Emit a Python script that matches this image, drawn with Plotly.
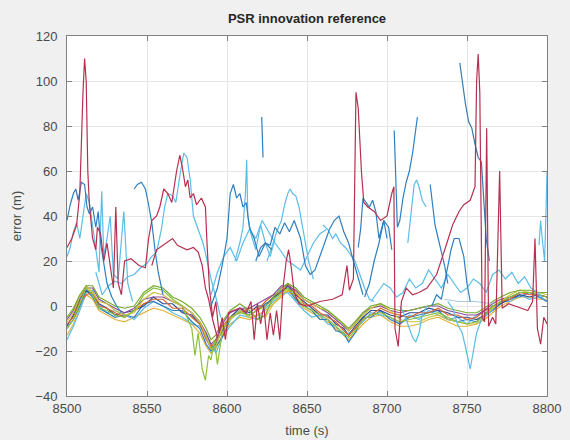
import plotly.graph_objects as go

# ---------------- data ----------------
CLUSTER_T = [8500, 8504, 8508, 8512, 8516, 8520,
             8525, 8530, 8536, 8542, 8548,
             8554, 8560, 8566, 8572, 8578,
             8583, 8587, 8590, 8593, 8597,
             8602, 8608, 8614, 8619, 8624,
             8629, 8634, 8638, 8643, 8648,
             8653, 8658, 8663, 8668, 8673,
             8676, 8680, 8685, 8690, 8696,
             8702, 8708, 8714, 8720, 8726,
             8732, 8738, 8744, 8750, 8756,
             8761, 8766, 8771, 8777, 8783,
             8789, 8795, 8800]

C_YELLOW2 = [-13, -8, -1, 5, 3, -2, -4, -6, -7, -5, -3, -1, -2, -4, -6, -8, -12, -18, -21, -19, -13,
             -8, -5, -6, -4, -2, 1, 4, 7, 3, -1, -3, -5, -7, -10, -13, -15, -12, -8, -5, -4,
             -7, -9, -9, -8, -6, -5, -7, -9, -9, -8, -6, -3, 0, 2, 4, 4, 3, 3]
C_LIGHT = [-15, -9, -2, 6, 7, 0, -3, -2, -4, -6, -1, 2, 0, -3, -5, -8, -9, -13, -17, -21, -14,
           -9, -4, -5, -6, -1, 2, 5, 6, 2, -2, -5, -4, -8, -9, -13, -12, -10, -7, -3, -4,
           -5, -8, -4, -6, -2, -4, -6, -5, -8, -4, -3, -2, 2, 2, 5, 3, 4, 2]
C_BLUE = [-10, -6, 0, 7, 4, -1, -3, -5, -4, -5, 1, 2, 0, -2, -2, -7, -10, -17, -20, -18, -14,
          -6, -2, -4, -2, 1, 3, 7, 8, 3, 0, -2, -6, -6, -11, -12, -16, -12, -5, -5, -2,
          -6, -8, -5, -4, -3, -2, -6, -7, -6, -7, -4, -2, 1, 4, 4, 6, 4, 2]
C_NAVY = [-9, -4, 3, 7, 5, 1, -1, -4, -3, -2, 0, 4, 1, 1, -3, -4, -8, -14, -19, -17, -11,
          -5, -1, -3, 0, 0, 4, 6, 9, 5, 2, -1, -4, -4, -8, -10, -13, -9, -5, -2, -2,
          -4, -5, -3, -3, -1, -2, -3, -5, -5, -6, -4, 0, 1, 3, 5, 4, 5, 4]
C_ORANGE = [-8, -5, 2, 5, 6, 0, -1, -3, -5, -2, 1, 3, 3, -1, -1, -5, -8, -15, -18, -16, -9,
            -5, -3, -1, -2, 2, 5, 6, 10, 6, 1, 0, -3, -5, -7, -11, -13, -10, -6, -4, -1,
            -3, -4, -5, -3, -3, -1, -4, -4, -6, -5, -2, -1, 2, 3, 6, 5, 5, 4]
C_PURPLE = [-6, -2, 4, 8, 8, 3, 1, -1, -3, -1, 3, 4, 4, 2, 0, -3, -7, -12, -17, -15, -8,
            -3, -1, -1, 1, 3, 5, 9, 9, 7, 3, 1, -1, -3, -6, -9, -11, -8, -3, -1, 0,
            -2, -3, -2, -1, 0, 0, -2, -3, -4, -4, -2, 1, 3, 4, 6, 6, 5, 4]
C_OLIVE = [-7, -3, 4, 9, 6, 2, 1, -2, -4, -3, 3, 6, 5, 2, 0, -3, -7, -14, -19, -18, -10,
           -6, -2, -5, -4, -5, 1, 5, 7, 6, 3, 1, -1, -2, -5, -8, -11, -8, -4, -1, 1,
           -2, -6, -7, -7, -5, -4, -6, -7, -8, -8, -5, -1, 2, 5, 7, 6, 6, 5]
C_GREEN2 = [-5, -1, 5, 9, 9, 4, 2, 0, -1, 0, 6, 9, 8, 4, 2, -1, -5, -10, -15, -13, -7,
            -2, 1, -2, -6, -4, 4, 8, 10, 8, 4, 2, 0, -2, -5, -8, -10, -7, -3, 0, 1,
            -1, -2, -2, -1, 0, 1, -1, -2, -3, -3, -1, 2, 4, 6, 7, 7, 6, 6]

GREEN_T = [8500, 8504, 8508, 8512, 8516, 8520, 8525, 8530, 8536, 8542,
           8548, 8554, 8560, 8566, 8572, 8578, 8580, 8582, 8584.5, 8586.5,
           8588.5, 8590, 8592, 8594, 8597, 8602, 8608, 8614, 8619, 8624,
           8629, 8634, 8638, 8643, 8648, 8653, 8658, 8663, 8668, 8673,
           8676, 8680, 8685, 8690, 8696, 8702, 8708, 8714, 8720, 8726,
           8732, 8738, 8744, 8750, 8756, 8761, 8766, 8771, 8777, 8783,
           8789, 8795, 8800]
GREEN_V = [-10, -6, 1, 8, 5, -1, -2, -4, -5, -2,
           5, 8, 7, 3, 0, -10, -22, -12, -28, -33,
           -22, -24, -15, -26, -12, -5, -3, -4, -2, 0,
           3, 6, 8, 4, 0, -2, -4, -6, -9, -12,
           -14, -11, -6, -4, -3, -5, -7, -6, -5, -4,
           -3, -5, -7, -8, -7, -4, 0, 2, 4, 6,
           6, 5, 4]

RED_A_T = [8500, 8503, 8506, 8508, 8510, 8511, 8512, 8513, 8514, 8516,
           8518, 8519, 8521, 8523, 8525, 8527, 8529, 8530.5, 8532, 8534,
           8536, 8540, 8545, 8549, 8551, 8553, 8556, 8558, 8560.5, 8563,
           8565.5, 8568.5, 8570.5, 8572, 8574, 8575.5, 8577, 8579, 8581, 8584,
           8586.5, 8587.5, 8589, 8591, 8593, 8595, 8597, 8599, 8601, 8604,
           8608, 8612, 8615, 8617, 8619, 8621, 8623, 8625, 8627, 8629,
           8631, 8633, 8635, 8637, 8638.5, 8640, 8642, 8645, 8650, 8658,
           8666, 8672, 8675, 8676.5, 8679, 8680.6, 8682, 8684, 8685.5, 8688,
           8692, 8696, 8700, 8703, 8704.3, 8705, 8707, 8709, 8712, 8716,
           8720, 8725, 8731, 8737, 8741, 8745, 8748, 8752, 8755, 8756,
           8757, 8758, 8759.5, 8761, 8762.3, 8763.5, 8766, 8768, 8770.4, 8772,
           8776, 8780, 8784, 8788, 8791, 8792.5, 8794, 8796, 8798, 8800]
RED_A_V = [26, 30, 36, 50, 95, 110, 100, 60, 45, 30,
           25, 35, 32, 20, 28, 18, 8, 44, 10, 5,
           20, 21, 18, 17, 30, 38, 40, 44, 52, 50,
           46, 60, 67, 62, 53, 56, 48, 50, 45, 48,
           44, 28, 8, -5, 2, -12, -5, -15, -3, -2,
           -1, -3, 2, -15, 1, -8, 0, -15, -3, -13,
           -2, -15, 8, 20, 25, 18, 6, 1, 0, 2,
           3, 5, 18, 7, 12, 95, 88, 60, 46, 44,
           42, 38, 40, 50, 53, -10, -18, 2, 8, 5,
           6, 8, 14, 27, 36, 42, 45, 47, 53, 100,
           112, 95, -5, -7, 79, -9, -5, -8, 60, -1,
           1, 0, -1, -2, 2, 30, -10, -17, -5, -8]

RED_B_T = [8553, 8556, 8560, 8564, 8566, 8569, 8572, 8575, 8579, 8582, 8584.5, 8586.5, 8588.5, 8591, 8594]
RED_B_V = [18, 25, 27, 29, 30, 27, 26, 25, 26, 24, 18, 8, 3, -6, -14]

BLUE_1_T = [8500, 8502, 8504, 8505.5, 8507, 8509, 8511, 8512.5, 8514, 8516, 8518, 8519.5, 8521, 8523, 8525, 8528, 8531, 8534]
BLUE_1_V = [38, 45, 50, 52, 47, 55, 54, 44, 41, 44, 35, 42, 28, 18, 10, 4, 0, -3]
LB_LEFT_T = [8500, 8502, 8504, 8506, 8508, 8510, 8512, 8514, 8516, 8518, 8520, 8521.7, 8523, 8525, 8527, 8529, 8532, 8535.5, 8538, 8541]
LB_LEFT_V = [22, 26, 33, 37, 30, 40, 50, 46, 36, 25, 15, 51, 22, 30, 40, 14, 12, 42, 10, 2]
BLUE_ARC_T = [8542, 8544, 8546.5, 8549, 8551, 8553, 8555, 8557, 8560]
BLUE_ARC_V = [52, 54, 55, 52, 45, 37, 25, 15, 5]
LB_PEAK_T = [8518, 8522, 8526, 8530, 8534, 8538, 8542, 8546, 8550, 8553,
             8556, 8559, 8561, 8563, 8566, 8568, 8571, 8573, 8575, 8577,
             8579, 8581, 8583, 8585, 8587, 8590, 8593, 8596]
LB_PEAK_V = [15, 5, 9, 11, 10, 13, 14, 17, 19, 22,
             24, 34, 44, 50, 49, 46, 60, 68, 66, 56,
             40, 36, 32, 28, 22, 12, 4, -5]
BLUE_4_T = [8590, 8594, 8597, 8600, 8602, 8604, 8606, 8608, 8610, 8612, 8614, 8617, 8620, 8624, 8628]
BLUE_4_V = [0, 8, 18, 30, 50, 54, 48, 50, 44, 46, 35, 30, 22, 28, 25]
LB_SPIKE_T = [8605, 8608, 8610, 8611.5, 8612.3, 8613, 8615, 8618, 8621, 8624, 8627, 8630]
LB_SPIKE_V = [20, 28, 35, 50, 65, 40, 32, 25, 36, 28, 22, 30]
BLUE_SEG_T = [8621.7, 8622.5]
BLUE_SEG_V = [84, 66]
LB_ARC2_T = [8625, 8628, 8631, 8634, 8636, 8638, 8639.5, 8641, 8643, 8645, 8647, 8649, 8651, 8654]
LB_ARC2_V = [20, 26, 33, 38, 45, 50, 52, 50, 49, 44, 36, 28, 20, 12]
BLUE_5_T = [8618, 8621, 8624, 8627, 8630, 8633, 8636, 8639, 8642, 8646,
            8649, 8652, 8655, 8658, 8661, 8664, 8667, 8670, 8673, 8676,
            8679, 8682, 8685]
BLUE_5_V = [20, 26, 28, 27, 35, 32, 37, 33, 38, 30,
            18, 14, 16, 22, 28, 34, 38, 40, 33, 28,
            20, 12, 5]
LB_DESC_T = [8660, 8663, 8666, 8668, 8671, 8674, 8677, 8680, 8683, 8686, 8689, 8692]
LB_DESC_V = [36, 34, 30, 32, 28, 26, 23, 20, 14, 8, 3, 2]
BLUE_7_T = [8682, 8683.5, 8685, 8687, 8689, 8691, 8693, 8695, 8698, 8701, 8703]
BLUE_7_V = [26, 34, 48, 46, 44, 47, 42, 30, 38, 35, 25]
BLUE_8_T = [8686, 8689, 8692, 8695, 8698, 8700]
BLUE_8_V = [4, 10, 20, 28, 38, 30]
BLUE_9_T = [8704.5, 8705.5, 8706.5, 8708, 8710, 8712, 8714, 8716, 8718, 8719]
BLUE_9_V = [78, 60, 35, 38, 48, 55, 60, 68, 80, 84]
LB_ARC3_T = [8713, 8715, 8717, 8718.5, 8720, 8722, 8724.5]
LB_ARC3_V = [28, 42, 54, 56, 53, 47, 44]
BLUE_10_T = [8727, 8728.5, 8730, 8732, 8734, 8736, 8738]
BLUE_10_V = [54, 45, 36, 30, 24, 18, 10]
BLUE_11_T = [8728, 8731, 8734, 8737, 8740, 8742, 8745, 8748, 8750, 8752]
BLUE_11_V = [0, 5, 3, 14, 25, 30, 30, 22, 10, 2]
BLUE_LONG_T = [8745.5, 8747, 8749, 8751, 8753, 8755, 8757, 8759, 8760.5, 8762, 8764]
BLUE_LONG_V = [108, 100, 90, 82, 79, 72, 66, 64, 45, 30, 20]
LB_DIP_T = [8738, 8741, 8744, 8747, 8749, 8751, 8752, 8754, 8756, 8759, 8762, 8766]
LB_DIP_V = [2, -1, -8, -12, -18, -25, -28, -20, -12, -6, -4, -2]
LB_DIP2_T = [8708, 8711, 8714, 8716, 8718, 8720, 8722, 8725]
LB_DIP2_V = [0, -4, -10, -14, -16, -12, -4, 0]
LB_MID_T = [8690, 8694, 8698, 8702, 8706, 8710, 8714, 8718, 8722, 8726,
            8730, 8734, 8738, 8742, 8746, 8750, 8754, 8758, 8762, 8766,
            8770, 8774, 8778, 8782, 8786, 8790, 8794, 8798]
LB_MID_V = [2, 6, 10, 8, 4, 6, 12, 8, 10, 16,
            12, 8, 14, 10, 6, 8, 12, 10, 6, 14,
            16, 12, 15, 10, 13, 8, 6, 3]
LB_MID2_T = [8590, 8594, 8598, 8602, 8606, 8610, 8614, 8618, 8622, 8626,
             8630, 8634, 8638, 8642, 8646, 8650, 8654, 8658, 8662]
LB_MID2_V = [5, 15, 22, 26, 20, 28, 34, 30, 38, 33,
             28, 24, 20, 18, 16, 22, 28, 32, 34]
LB_FLAT_T = [8736, 8745, 8755, 8766]
LB_FLAT_V = [3, 2, 2, 1]
LB_RIGHT_T = [8795, 8796, 8797, 8798.5, 8799.5, 8800]
LB_RIGHT_V = [27, 38, 30, 20, 45, 60]

# ---------------- styles ----------------
RED = "#B5304F"
BLUE = "#2F7FC0"
LBLUE = "#5CBDE8"
GREEN = "#77AC30"
YELLOW = "#E2B43A"
ORANGE = "#D9622B"
PURPLE = "#8A4A9A"
NAVY = "#2E4C8E"

series = [
    (CLUSTER_T, C_YELLOW2, YELLOW), (CLUSTER_T, C_LIGHT, LBLUE), (CLUSTER_T, C_BLUE, BLUE),
    (CLUSTER_T, C_NAVY, NAVY), (CLUSTER_T, C_ORANGE, ORANGE), (CLUSTER_T, C_PURPLE, PURPLE),
    (CLUSTER_T, C_OLIVE, "#C9C23A"), (CLUSTER_T, C_GREEN2, GREEN), (GREEN_T, GREEN_V, "#8CBF3A"),
    (LB_LEFT_T, LB_LEFT_V, LBLUE), (LB_PEAK_T, LB_PEAK_V, LBLUE), (LB_SPIKE_T, LB_SPIKE_V, LBLUE),
    (LB_ARC2_T, LB_ARC2_V, LBLUE), (LB_DESC_T, LB_DESC_V, LBLUE), (LB_ARC3_T, LB_ARC3_V, LBLUE),
    (LB_DIP_T, LB_DIP_V, LBLUE), (LB_DIP2_T, LB_DIP2_V, LBLUE), (LB_MID_T, LB_MID_V, LBLUE),
    (LB_MID2_T, LB_MID2_V, LBLUE), (LB_FLAT_T, LB_FLAT_V, "#A9CBE2"), (LB_RIGHT_T, LB_RIGHT_V, LBLUE),
    (BLUE_1_T, BLUE_1_V, BLUE), (BLUE_ARC_T, BLUE_ARC_V, BLUE), (BLUE_4_T, BLUE_4_V, BLUE),
    (BLUE_SEG_T, BLUE_SEG_V, BLUE), (BLUE_5_T, BLUE_5_V, BLUE), (BLUE_7_T, BLUE_7_V, BLUE),
    (BLUE_8_T, BLUE_8_V, BLUE), (BLUE_9_T, BLUE_9_V, BLUE), (BLUE_10_T, BLUE_10_V, BLUE),
    (BLUE_11_T, BLUE_11_V, BLUE), (BLUE_LONG_T, BLUE_LONG_V, "#3A79A8"),
    (RED_B_T, RED_B_V, RED), (RED_A_T, RED_A_V, RED),
]

fig = go.Figure()
for t, v, c in series:
    fig.add_trace(go.Scatter(x=t, y=v, mode="lines", line=dict(color=c, width=1.2),
                             hoverinfo="skip", showlegend=False))

FONT = "Liberation Sans, Arial, Helvetica, sans-serif"
axis_common = dict(
    automargin=False,
    showgrid=True, gridcolor="#E6E6E6", gridwidth=1, zeroline=False,
    showline=True, linecolor="#808080", linewidth=1, mirror="ticks",
    ticks="inside", ticklen=5, tickcolor="#808080",
    tickfont=dict(family=FONT, size=13, color="#4A4A4A"),
)
fig.update_layout(
    width=570, height=440,
    paper_bgcolor="#F0F0F0", plot_bgcolor="white",
    margin=dict(l=67, r=23, t=36, b=44, autoexpand=False),
    title=dict(text="<b>PSR innovation reference</b>", x=0.5, xref="paper", xanchor="center",
               y=1 - 18 / 440, yref="container", yanchor="middle",
               font=dict(family=FONT, size=13, color="#262626")),
    xaxis=dict(range=[8500, 8800], tick0=8500, dtick=50, ticklabelstandoff=0,
               title=dict(text="time (s)", standoff=11, font=dict(family=FONT, size=13, color="#4A4A4A")),
               **axis_common),
    yaxis=dict(range=[-40, 120], tick0=-40, dtick=20, ticklabelstandoff=6,
               title=dict(text="error (m)", standoff=10, font=dict(family=FONT, size=13, color="#4A4A4A")),
               **axis_common),
)
fig.write_html("out.html", config={"displayModeBar": False},
               post_script="document.body.style.margin='0px';")
